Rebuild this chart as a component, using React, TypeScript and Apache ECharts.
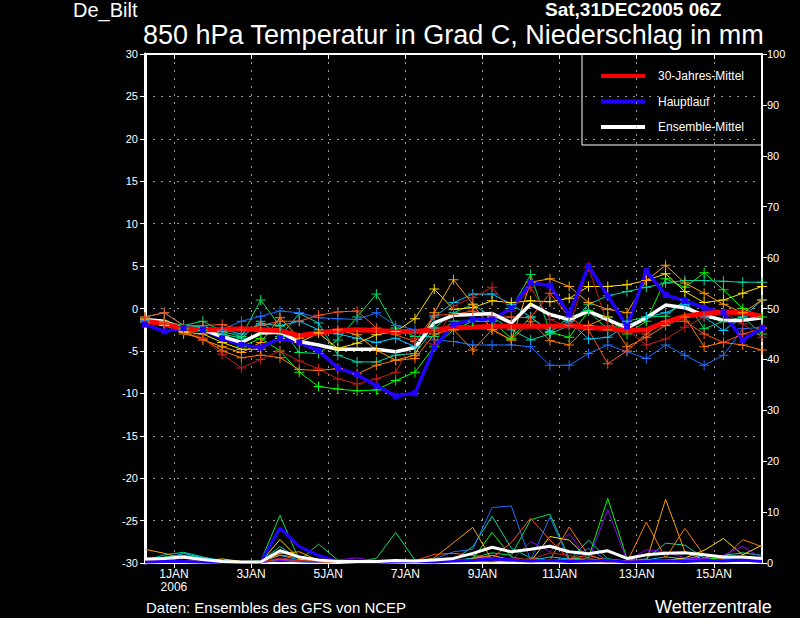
import React, { useEffect, useRef } from "react";
import * as echarts from "echarts";

// 12-hourly steps from 31DEC2005 06Z (hours relative to 1JAN2006 00Z)
const startHour = -18;
const stepHours = 12;
const labelDays = [1, 3, 5, 7, 9, 11, 13, 15];

const tempClimate = [-1.5,-1.8,-2.4,-2.5,-2.5,-2.4,-2.5,-2.6,-3.2,-2.9,-2.6,-2.5,-2.6,-2.7,-2.7,-2.5,-2.3,-2.2,-2.1,-2.1,-2.1,-2.1,-2.0,-2.2,-2.4,-2.6,-2.5,-1.6,-0.9,-0.6,-0.4,-0.5,-0.9];
const tempMain = [-1.9,-2.7,-2.3,-2.5,-3.5,-4.3,-4.6,-3.5,-4.0,-5.0,-7.0,-7.8,-9.1,-10.3,-10.0,-4.6,-1.9,-1.3,-1.3,0.0,3.0,2.7,-0.7,5.0,1.5,-2.1,4.4,1.6,0.9,0.1,-0.5,-3.7,-2.3];
const tempMean = [-1.3,-1.5,-2.5,-2.5,-3.3,-4.0,-2.9,-2.8,-3.9,-4.3,-4.8,-4.8,-4.8,-5.1,-4.6,-1.7,-0.8,-0.7,-0.6,-1.7,0.5,-0.7,-1.3,-0.3,-1.3,-2.3,-1.1,0.4,0.1,-0.8,-1.4,-1.4,-1.1];

const tempLime = [-1.5,-2.0,-2.4,-2.6,-2.7,-4.5,-3.5,-5.0,-7.5,-9.2,-9.5,-9.7,-9.6,-8.5,-7.5,-4.5,-2.5,-1.5,-1.5,-3.5,-1.0,-2.8,-3.4,-0.3,-1.0,-3.0,-1.5,3.5,2.5,4.2,2.2,0.0,-1.0];
const tempGreen = [-1.2,-1.5,-2.0,-1.5,-2.7,-3.3,1.0,-2.1,-5.2,-5.3,-3.7,-1.0,1.7,-2.3,-3.3,-3.3,-1.5,-1.5,-1.5,0.0,4.0,-2.8,-1.0,-0.3,-2.5,-1.5,-1.0,-0.9,1.0,-2.4,-1.5,-1.0,-3.0];
const tempTeal = [-1.0,-0.5,-2.0,-2.2,-3.0,-3.5,-1.5,-3.3,-0.6,-1.7,-5.5,-6.3,-6.3,-5.5,-5.3,-2.3,-0.5,0.5,-1.0,-2.5,-3.7,-3.0,-2.0,0.5,1.5,2.0,2.5,3.0,3.3,3.3,3.2,3.1,3.1];
const tempCyan = [-1.4,-1.8,-2.5,-2.2,-2.5,-3.0,-1.8,-2.0,-1.5,-2.5,-3.0,-3.5,-4.0,-3.5,-4.5,-1.0,0.7,1.7,1.7,0.5,-1.0,-2.7,-1.5,-3.6,-3.4,-2.0,-1.0,-0.5,0.5,-1.0,-2.6,-1.0,1.0];
const tempDodger = [-1.5,-2.0,-2.2,-2.5,-2.5,-1.5,-0.9,-0.3,-0.5,-1.1,-1.2,-1.3,-0.5,-2.0,-2.5,-3.7,-3.9,-4.3,-4.3,-4.3,-4.5,-6.7,-6.7,-5.3,-4.3,-5.1,-5.9,-4.3,-5.5,-6.7,-5.5,-2.4,-2.2];
const tempYellow = [-1.6,-2.0,-2.8,-3.0,-4.0,-4.8,-4.8,-3.5,-4.0,-2.9,-4.7,-4.1,-3.1,-2.7,-1.2,2.3,-0.1,0.1,0.9,0.7,0.9,0.8,1.2,2.6,2.6,2.8,3.3,4.1,2.0,0.7,1.0,1.8,2.6];
const tempOrange = [-1.3,-1.8,-2.7,-3.7,-4.5,-5.2,-4.0,-1.1,-3.5,-2.9,-2.5,-3.1,-4.9,-6.1,-5.5,-0.5,3.4,0.5,-2.5,-3.7,3.1,3.5,2.6,0.7,-0.1,-0.5,3.3,5.1,3.0,1.8,0.5,-0.5,1.0];
const tempDarkOrange = [-1.2,-1.6,-3.0,-3.5,-5.0,-5.8,-5.5,-5.8,-7.2,-7.3,-7.1,-7.7,-6.7,-6.1,-5.9,-3.0,-2.5,-4.9,-2.5,-3.7,-1.5,-3.8,-4.3,-2.0,-1.0,-4.5,-3.4,-2.0,-1.0,-4.5,-4.0,-4.3,-4.9];
const tempOrangeRed = [-1.0,-0.5,-2.0,-2.0,-1.9,-2.5,-2.0,-1.5,-1.5,-0.8,-0.4,-0.3,-2.3,-3.1,-3.9,-0.8,-0.7,-0.3,-1.0,-1.0,-1.1,1.8,-1.0,-2.5,-6.5,-5.0,-3.0,-1.5,-1.5,-3.0,-4.0,-3.0,-2.4];
const tempFirebrick = [-1.5,-1.8,-2.5,-3.5,-5.4,-7.0,-6.0,-5.0,-6.2,-7.1,-8.3,-8.9,-8.3,-7.5,-3.5,-4.3,0.3,1.3,2.5,-0.3,2.5,-1.3,-2.2,4.9,-2.0,-2.5,-4.3,-3.6,-2.2,-1.0,-0.5,-1.8,-3.4];

const precipMain = [0.2,0.3,0.3,0.2,0.1,0.1,0.1,6.9,3.2,1.5,0.3,0.1,0.1,0.2,0.3,0.2,0.4,0.5,0.8,0.6,0.4,0.5,0.3,0.4,0.5,0.2,0.3,0.4,0.3,0.5,0.4,0.6,0.3];
const precipMean = [0.8,0.9,1.2,0.7,0.3,0.2,0.2,2.4,1.2,0.6,0.3,0.3,0.3,0.5,0.4,0.6,0.9,1.9,3.1,2.2,2.7,3.3,2.2,1.8,2.4,0.9,1.6,1.9,2.0,1.6,1.2,1.2,0.9];
const precipLime = [0.5,0.5,0.3,0.2,0.1,0.1,0.2,0.6,0.3,0.1,0.1,0.1,0.1,0.2,0.1,0.2,0.3,0.8,6.0,1.2,0.4,0.5,0.8,1.0,12.7,0.8,0.3,0.5,0.6,0.8,1.0,0.9,0.6];
const precipGreen = [0.3,1.2,1.5,1.0,0.3,0.2,0.3,9.4,0.5,3.7,0.6,0.3,0.9,6.0,0.6,0.2,0.3,1.0,2.0,1.5,8.5,9.6,0.9,0.5,0.8,0.4,0.3,0.6,0.8,0.5,0.6,0.5,0.4];
const precipTeal = [0.5,1.6,2.1,1.2,0.4,0.3,0.4,3.2,0.8,0.5,0.3,0.2,0.3,0.2,0.3,0.4,0.6,3.2,9.2,2.9,1.0,0.6,0.5,4.5,0.8,0.3,0.8,3.9,3.5,1.0,1.5,2.0,1.5];
const precipCyan = [0.4,0.8,1.9,1.0,0.5,0.3,0.2,1.5,0.6,0.4,0.3,0.5,0.4,0.3,0.2,0.3,0.5,0.9,1.5,0.6,0.4,1.2,0.8,0.6,0.5,0.4,0.6,1.2,0.8,1.5,0.9,0.6,0.5];
const precipDodger = [0.2,0.3,0.4,0.3,0.2,0.1,0.1,0.5,0.2,0.1,0.1,0.1,0.2,0.1,0.2,0.8,2.2,2.7,10.9,11.2,0.5,9.0,0.6,2.9,0.4,0.3,0.2,0.4,0.6,0.5,0.8,1.0,0.6];
const precipYellow = [0.3,0.5,0.5,0.4,0.8,0.3,0.2,4.6,0.8,0.2,0.1,0.1,0.3,0.2,0.1,0.3,0.5,0.3,0.2,0.4,0.3,5.2,4.5,0.8,0.5,0.4,0.2,0.5,1.0,2.5,4.8,1.6,3.5];
const precipOrange = [2.7,1.9,0.9,0.6,0.3,0.3,0.2,1.9,2.2,0.5,0.2,0.1,0.2,0.3,0.2,1.0,4.0,7.0,0.6,0.3,0.2,0.5,0.4,0.3,0.2,0.5,0.3,12.5,2.2,0.6,0.4,0.5,0.3];
const precipDarkOrange = [0.5,0.6,0.5,0.3,0.2,0.3,0.3,1.6,1.0,0.3,0.2,0.3,0.3,0.2,0.3,0.6,0.4,0.8,1.5,0.6,0.8,0.6,7.1,1.5,0.5,0.2,8.0,1.0,6.8,1.5,0.8,4.6,3.2];
const precipOrangeRed = [0.4,0.5,0.3,0.3,0.2,0.2,0.2,0.8,0.4,0.2,0.2,0.2,0.3,0.2,0.4,1.7,1.9,1.5,1.0,4.0,8.8,4.5,0.8,1.6,0.4,0.3,0.5,0.6,0.4,0.5,0.6,0.8,0.5];
const precipFirebrick = [0.2,0.3,0.3,0.2,0.1,0.2,0.1,1.0,0.5,0.3,0.1,0.1,0.1,0.2,0.1,0.2,0.3,0.5,0.3,1.0,0.6,2.0,1.5,0.6,0.2,0.3,0.4,0.5,0.6,0.4,0.5,0.3,0.4];
const precipPurple = [0.2,0.2,0.3,0.2,0.2,0.1,0.1,0.5,0.3,0.2,0.6,1.0,0.3,0.2,0.2,0.3,0.4,0.6,1.0,0.5,4.2,2.2,5.8,0.6,10.5,0.4,2.6,2.2,1.0,0.8,1.5,3.3,0.9];

const members = [
  { color: "#00ff00", temp: tempLime, precip: precipLime },
  { color: "#00e060", temp: tempGreen, precip: precipGreen },
  { color: "#00d8a8", temp: tempTeal, precip: precipTeal },
  { color: "#00c8ff", temp: tempCyan, precip: precipCyan },
  { color: "#1e6eff", temp: tempDodger, precip: precipDodger },
  { color: "#ffe000", temp: tempYellow, precip: precipYellow },
  { color: "#ffa000", temp: tempOrange, precip: precipOrange },
  { color: "#ff7800", temp: tempDarkOrange, precip: precipDarkOrange },
  { color: "#ff5020", temp: tempOrangeRed, precip: precipOrangeRed },
  { color: "#c81e1e", temp: tempFirebrick, precip: precipFirebrick },
  { color: "#9000ff", temp: null as number[] | null, precip: precipPurple },
];

const legendNames = ["30-Jahres-Mittel", "Hauptlauf", "Ensemble-Mittel"];
const FONT = "'Liberation Sans', Arial, sans-serif";
const CROSS = "path://M4.5,0H5.5V4.5H10V5.5H5.5V10H4.5V5.5H0V4.5H4.5Z";

const toPairs = (arr: number[]) => arr.map((v, i) => [startHour + i * stepHours, v]);

export default function App() {
  const ref = useRef<HTMLDivElement>(null);
  useEffect(() => {
    document.body.style.background = "#000";
    const chart = echarts.init(ref.current!, null, { renderer: "svg" });
    const tickHours = labelDays.map((d) => (d - 1) * 24);
    const grid = "rgba(170,170,170,0.9)";
    const series: any[] = [];
    members.forEach((m) => {
      if (m.temp) {
        series.push({
          type: "line", xAxisIndex: 0, yAxisIndex: 0, data: toPairs(m.temp),
          symbol: CROSS, symbolSize: 10, showAllSymbol: true,
          itemStyle: { color: m.color }, lineStyle: { color: m.color, width: 1 },
        });
      }
    });
    members.forEach((m) => {
      series.push({
        type: "line", xAxisIndex: 0, yAxisIndex: 1, data: toPairs(m.precip),
        symbol: "none", lineStyle: { color: m.color, width: 1 },
      });
    });
    series.push({
      name: legendNames[1], type: "line", xAxisIndex: 0, yAxisIndex: 1, data: toPairs(precipMain),
      symbol: "none", lineStyle: { color: "#2200ff", width: 3 },
    });
    series.push({
      name: legendNames[1], type: "line", xAxisIndex: 0, yAxisIndex: 0, data: toPairs(tempMain),
      symbol: "rect", symbolSize: 6, showAllSymbol: true,
      itemStyle: { color: "#2200ff" }, lineStyle: { color: "#2200ff", width: 3.5 },
    });
    series.push({
      name: legendNames[2], type: "line", xAxisIndex: 0, yAxisIndex: 1, data: toPairs(precipMean),
      symbol: "none", lineStyle: { color: "#ffffff", width: 3 },
    });
    series.push({
      name: legendNames[2], type: "line", xAxisIndex: 0, yAxisIndex: 0, data: toPairs(tempMean),
      symbol: "none", lineStyle: { color: "#ffffff", width: 3.5 },
    });
    series.push({
      name: legendNames[0], type: "line", xAxisIndex: 0, yAxisIndex: 0, data: toPairs(tempClimate),
      symbol: "none", lineStyle: { color: "#ff0000", width: 5 },
    });

    const xMin = startHour;
    const xMax = startHour + (tempMean.length - 1) * stepHours;
    const legendX = 582, legendY = 54;
    const legendColors = ["#ff0000", "#2200ff", "#ffffff"];

    chart.setOption({
      animation: false,
      backgroundColor: "#000",
      grid: { left: 145, right: 38, top: 54, bottom: 55, show: true, borderColor: "#fff", borderWidth: 2 },
      xAxis: [
        {
          type: "value", min: xMin, max: xMax, position: "bottom",
          axisLine: { onZero: false, lineStyle: { color: "#fff", width: 2 } },
          axisTick: { show: true, length: 5, customValues: tickHours, lineStyle: { color: "#fff", width: 1 } },
          axisLabel: {
            customValues: tickHours, color: "#fff", fontSize: 12, fontFamily: FONT, margin: 4, lineHeight: 13,
            formatter: (v: number) => {
              const d = Math.round(v / 24) + 1;
              return d === 1 ? `${d}JAN\n2006` : `${d}JAN`;
            },
          },
          splitLine: { show: true, lineStyle: { color: grid, type: [2, 6], width: 1 } },
        },
        {
          type: "value", min: xMin, max: xMax, position: "top",
          axisLine: { onZero: false, lineStyle: { color: "#fff", width: 2 } },
          axisTick: { show: true, inside: true, length: 5, customValues: tickHours, lineStyle: { color: "#fff" } },
          axisLabel: { show: false },
          splitLine: { show: false },
        },
      ],
      yAxis: [
        {
          type: "value", min: -30, max: 30, interval: 5, position: "left",
          axisLine: { show: true, onZero: false, lineStyle: { color: "#fff", width: 3 } },
          axisTick: { show: true, length: 5, lineStyle: { color: "#fff" } },
          axisLabel: { color: "#fff", fontSize: 11, fontFamily: FONT, margin: 7 },
          splitLine: { show: true, lineStyle: { color: grid, type: [2, 6], width: 1 } },
        },
        {
          type: "value", min: 0, max: 100, interval: 10, position: "right",
          axisLine: { show: true, onZero: false, lineStyle: { color: "#fff", width: 2 } },
          axisTick: { show: true, length: 5, lineStyle: { color: "#fff" } },
          axisLabel: { color: "#fff", fontSize: 11, fontFamily: FONT, margin: 5 },
          splitLine: { show: false },
        },
      ],
      series,
      graphic: [
        { type: "text", left: 73, top: 0, style: { text: "De_Bilt", fill: "#fff", font: `20px ${FONT}` } },
        { type: "text", left: 545, top: 0, style: { text: "Sat,31DEC2005 06Z", fill: "#fff", font: `bold 19px ${FONT}`, lineHeight: 18 } },
        { type: "text", left: 143, top: 21, style: { text: "850 hPa Temperatur in Grad C, Niederschlag in mm", fill: "#fff", font: `27px ${FONT}`, lineHeight: 26 } },
        { type: "text", left: 146, top: 600, style: { text: "Daten: Ensembles des GFS von NCEP", fill: "#fff", font: `15px ${FONT}`, lineHeight: 15 } },
        { type: "text", left: 655, top: 598, style: { text: "Wetterzentrale", fill: "#fff", font: `18px ${FONT}`, lineHeight: 18 } },
        {
          type: "group", z: 100,
          children: [
            { type: "rect", shape: { x: legendX, y: legendY, width: 180, height: 91 }, style: { fill: "#000", stroke: "#fff", lineWidth: 1 } },
            ...legendNames.flatMap((name, i) => [
              { type: "line", shape: { x1: legendX + 19, y1: legendY + 22 + i * 25.5, x2: legendX + 63, y2: legendY + 22 + i * 25.5 }, style: { stroke: legendColors[i], lineWidth: 4 } },
              { type: "text", x: legendX + 76, y: legendY + 22 + i * 25.5, style: { text: name, fill: "#fff", font: `12px ${FONT}`, verticalAlign: "middle" } },
            ]),
          ],
        },
      ],
    });
    return () => chart.dispose();
  }, []);
  return <div ref={ref} style={{ position: "fixed", left: 0, top: 0, width: 800, height: 618, background: "#000" }} />;
}
